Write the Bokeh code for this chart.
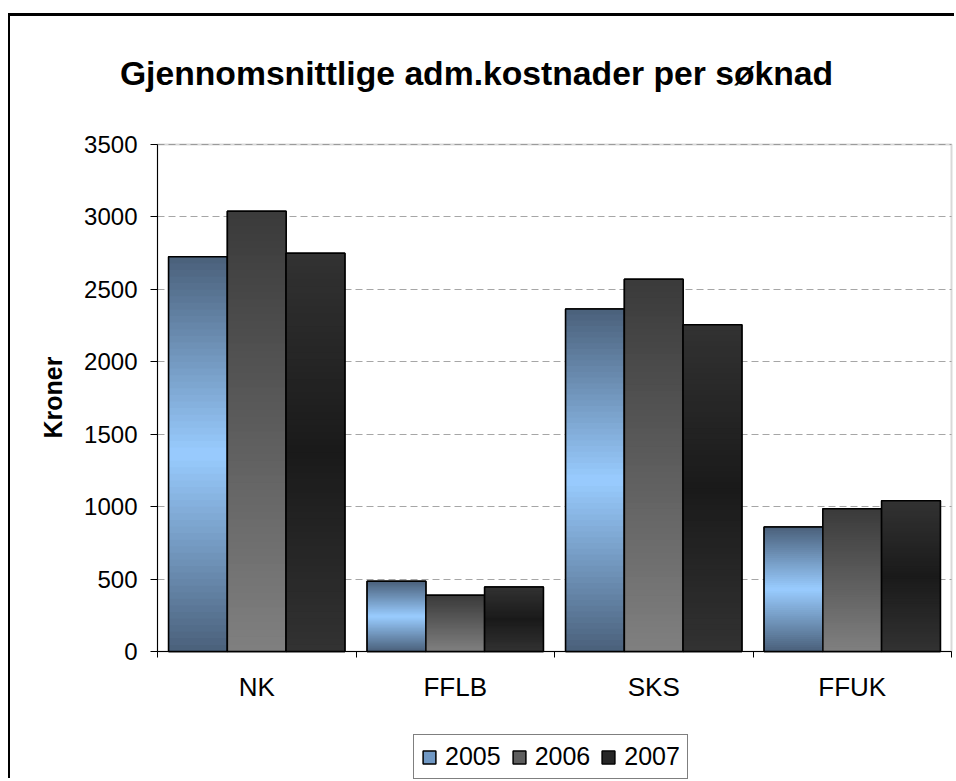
import math
from bokeh.plotting import figure
from bokeh.models import (ColumnDataSource, FixedTicker, Range1d, Legend, LegendItem,
                          BoxAnnotation, Label)
from bokeh.embed import file_html
from bokeh.resources import INLINE

categories = ["NK", "FFLB", "SKS", "FFUK"]
years = ["2005", "2006", "2007"]
v2005 = [2725, 485, 2365, 860]
v2006 = [3040, 388, 2570, 985]
v2007 = [2750, 445, 2255, 1040]
y_ticks = [0, 500, 1000, 1500, 2000, 2500, 3000, 3500]
title_text = "Gjennomsnittlige adm.kostnader per søknad"
y_title = "Kroner"

series = [v2005, v2006, v2007]
FONT = "Liberation Sans"
BAR_W = 0.296
N_SLICES = 60
Y_MAX = 3500
N_CAT = len(categories)

# canvas layout in pixels; the frame covers the whole canvas
W, H = 946, 765
LEFT_PX, RIGHT_PX = 147, 5
TOP_PX, BOTTOM_PX = 128, 130
PLOT_W = W - LEFT_PX - RIGHT_PX
PLOT_H = H - TOP_PX - BOTTOM_PX
x_lo = -LEFT_PX * N_CAT / PLOT_W
x_hi = N_CAT + RIGHT_PX * N_CAT / PLOT_W
y_lo = -BOTTOM_PX * Y_MAX / PLOT_H
y_hi = Y_MAX + TOP_PX * Y_MAX / PLOT_H


def mix(c1, c2, s):
    return "#%02x%02x%02x" % tuple(int(round(a + (b - a) * s)) for a, b in zip(c1, c2))


def color_2005(t):
    s = 1 - abs(2 * t - 1)
    return mix((74, 96, 122), (153, 204, 255), s)


def color_2006(t):
    return mix((128, 128, 128), (58, 58, 58), t)


def color_2007(t):
    s = 1 - abs(2 * t - 1)
    return mix((50, 50, 50), (26, 26, 26), s)


grad_funcs = [color_2005, color_2006, color_2007]
legend_colors = ["#7098c4", "#5e5e5e", "#262626"]

p = figure(width=W, height=H, output_backend="svg", toolbar_location=None,
           x_range=Range1d(x_lo, x_hi), y_range=Range1d(y_lo, y_hi),
           min_border=0)
p.margin = (13, 0, 0, 8)
p.styles = {"border-top": "3px solid black", "border-left": "2px solid black"}
p.background_fill_color = "white"
p.border_fill_color = "white"
p.outline_line_color = None

# grey plot-area box
area = BoxAnnotation(left=0, right=N_CAT, bottom=0, top=Y_MAX,
                     fill_alpha=0, line_color="#808080", line_width=2, level="underlay")
p.add_layout(area)

# gridlines limited to the plot area
p.xgrid.visible = False
try:
    p.ygrid.cross_bounds = (0, N_CAT)
    p.ygrid.bounds = (0, Y_MAX)
    p.ygrid.grid_line_color = "#a6a6a6"
    p.ygrid.grid_line_dash = "7 4"
    p.ygrid.grid_line_width = 1
except AttributeError:
    p.ygrid.visible = False
    gl = y_ticks[1:-1]
    p.segment(x0=[0] * len(gl), x1=[N_CAT] * len(gl), y0=gl, y1=gl,
              line_color="#a6a6a6", line_dash="7 4", line_width=1)

legend_items = []
for j, (vals, gf) in enumerate(zip(series, grad_funcs)):
    offset = (j - 1) * BAR_W
    xs = [i + 0.5 + offset for i in range(N_CAT)]
    base = p.vbar(x=xs, top=vals, bottom=0, width=BAR_W,
                  fill_color=legend_colors[j], line_color="black", line_width=1.5)
    legend_items.append(LegendItem(label=years[j], renderers=[base]))
    sx, stop, scol = [], [], []
    for i, v in enumerate(vals):
        for k in range(N_SLICES, 0, -1):
            sx.append(xs[i])
            stop.append(v * k / N_SLICES)
            scol.append(gf((k - 0.5) / N_SLICES))
    src = ColumnDataSource(dict(x=sx, top=stop, color=scol))
    p.vbar(x="x", top="top", bottom=0, width=BAR_W, source=src,
           fill_color="color", line_color=None)
    p.vbar(x=xs, top=vals, bottom=0, width=BAR_W, fill_color=None,
           line_color="black", line_width=1.5)

xa = p.xaxis[0]
xa.fixed_location = 0
xa.bounds = (0, N_CAT)
xa.ticker = FixedTicker(ticks=[i + 0.5 for i in range(N_CAT)],
                        minor_ticks=list(range(N_CAT + 1)))
xa.major_label_overrides = {i + 0.5: c for i, c in enumerate(categories)}
xa.major_tick_line_color = None
xa.major_tick_out = 0
xa.major_tick_in = 0
xa.minor_tick_line_color = "black"
xa.minor_tick_out = 6
xa.minor_tick_in = 0
xa.axis_line_color = "black"
xa.axis_line_width = 1
xa.major_label_text_font = FONT
xa.major_label_text_font_size = "26px"
xa.major_label_text_color = "black"
xa.major_label_standoff = 14

ya = p.yaxis[0]
ya.fixed_location = 0
ya.bounds = (0, Y_MAX)
ya.ticker = FixedTicker(ticks=y_ticks)
ya.minor_tick_line_color = None
ya.major_tick_out = 7
ya.major_tick_in = 0
ya.major_tick_line_color = "black"
ya.axis_line_color = "black"
ya.axis_line_width = 1
ya.major_label_text_font = FONT
ya.major_label_text_font_size = "24px"
ya.major_label_text_color = "black"
ya.major_label_standoff = 13

# chart title and y-axis title
p.add_layout(Label(x=466, y=H - 56, x_units="screen", y_units="screen",
                   text=title_text, text_font=FONT, text_font_size="33.7px",
                   text_font_style="bold", text_color="black",
                   text_align="center", text_baseline="alphabetic"))
p.add_layout(Label(x=42, y=H - 381, x_units="screen", y_units="screen",
                   text=y_title, text_font=FONT, text_font_size="25px",
                   text_font_style="bold", text_color="black", angle=math.pi / 2,
                   text_align="center", text_baseline="middle"))

legend = Legend(items=legend_items, orientation="horizontal", location=(403, 2))
legend.margin = 0
legend.padding = 7
legend.spacing = 10
legend.label_standoff = 8
legend.glyph_width = 16
legend.glyph_height = 16
legend.label_text_font = FONT
legend.label_text_font_size = "25px"
legend.label_text_color = "black"
legend.border_line_color = "black"
legend.border_line_width = 1
legend.background_fill_color = "white"
legend.background_fill_alpha = 1
p.add_layout(legend, "center")

open("out.html", "w").write(file_html(p, INLINE))
